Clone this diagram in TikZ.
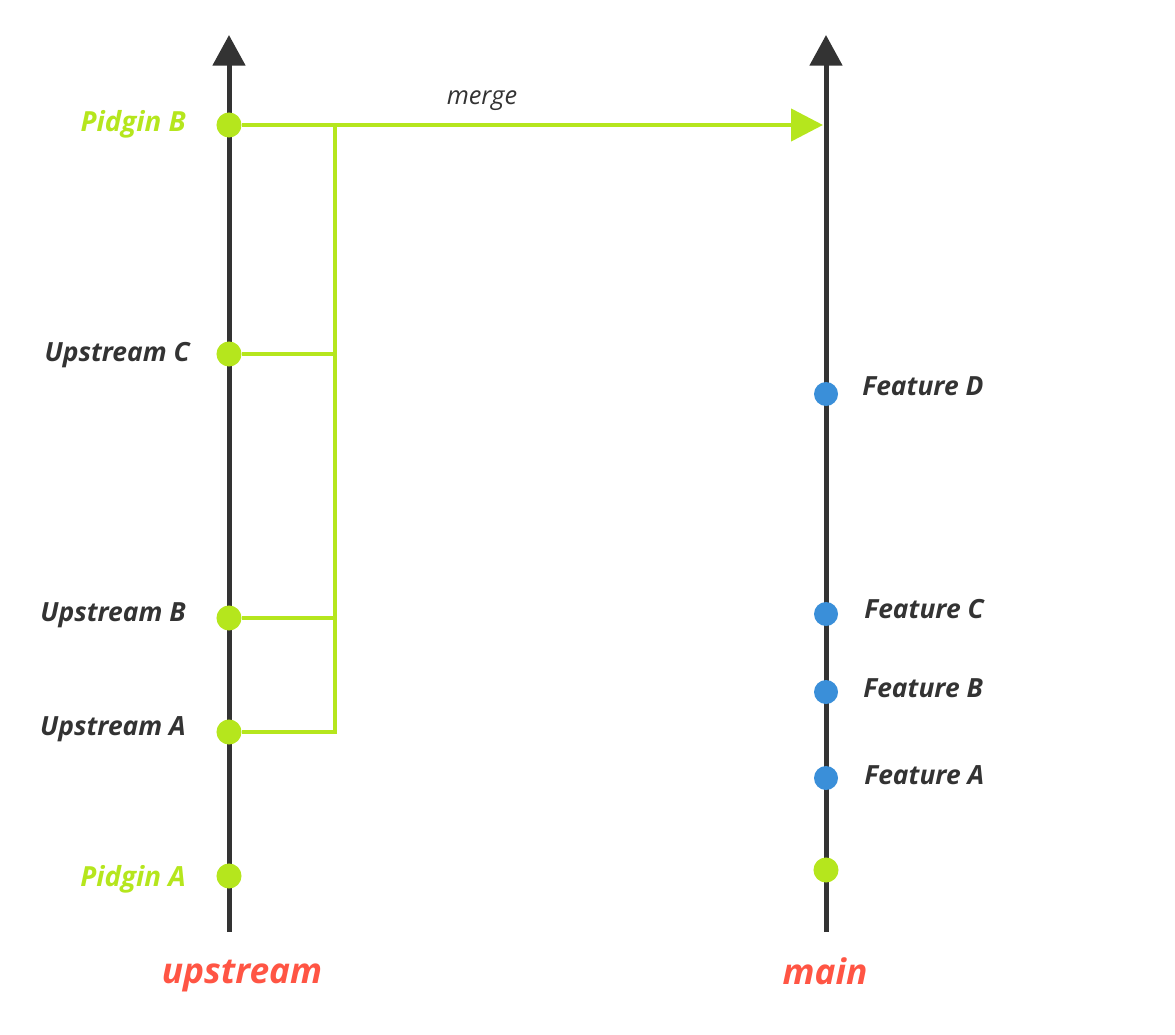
\documentclass[tikz,border=0pt]{standalone}
\usepackage{fontspec}
\setmainfont{Open Sans}
\usetikzlibrary{arrows.meta}
\definecolor{axisc}{HTML}{333333}
\definecolor{lime}{HTML}{B5E61D}
\definecolor{blu}{HTML}{3A8FD9}
\definecolor{redc}{HTML}{FF5544}
\tikzset{
  axis/.style={draw=axisc,line width=3.75pt,-{Triangle[length=23pt,width=24pt]}},
  gline/.style={draw=lime,line width=3.3pt},
  gdot/.style={circle,fill=lime,inner sep=0pt,minimum size=18.8pt},
  bdot/.style={circle,fill=blu,inner sep=0pt,minimum size=18pt},
  lbl/.style={font=\bfseries\itshape\fontsize{19.8}{22}\selectfont,text=axisc,inner sep=0pt},
  glbl/.style={lbl,text=lime,font=\bfseries\itshape\fontsize{20.8}{22}\selectfont},
  blbl/.style={font=\bfseries\itshape\fontsize{26.5}{30}\selectfont,text=redc,inner sep=0pt},
}
\begin{document}
\begin{tikzpicture}[x=0.75pt,y=-0.75pt]
\useasboundingbox (0,0) rectangle (1175,1035);
% axes
\coordinate (lb) at (229,932);
\coordinate (lt) at (229,35);
\coordinate (rb) at (826,932);
\coordinate (rt) at (826,35);
\draw[axis] (lb) -- (lt);
\draw[axis] (rb) -- (rt);
% left dots
\node[gdot] (pb) at (229,125) {};
\node[gdot] (uc) at (229,354) {};
\node[gdot] (ub) at (229,618) {};
\node[gdot] (ua) at (229,732) {};
\node[gdot] (pa) at (229,876) {};
% right dots
\node[bdot] (fd) at (826,394) {};
\node[bdot] (fc) at (826,614) {};
\node[bdot] (fb) at (826,692) {};
\node[bdot] (fa) at (826,778) {};
\node[gdot] (mg) at (826,870) {};
% merge lines
\coordinate (jt) at (335,125);
\coordinate (jc) at (335,354);
\coordinate (jb) at (335,618);
\coordinate (ja) at (335,732);
\coordinate (mt) at (823,125);
\draw[gline,-{Triangle[length=24pt,width=24pt]}] (pb.east) -- (mt);
\draw[gline] (uc.east) -- (jc);
\draw[gline] (ub.east) -- (jb);
\draw[gline] (ua.east) -- (ja) -- (jt);
\node[font=\itshape\fontsize{19}{22}\selectfont,text=axisc,inner sep=0pt] (mlab) at (482,101) {merge};
% left labels
\node[glbl,anchor=east] (lpb) at (186,124) {Pidgin B};
\node[lbl,anchor=east] (luc) at (190,355) {Upstream C};
\node[lbl,anchor=east] (lub) at (186,615) {Upstream B};
\node[lbl,anchor=east] (lua) at (186,729) {Upstream A};
\node[glbl,anchor=east] (lpa) at (186,879) {Pidgin A};
% right labels
\node[lbl,anchor=west] (lfd) at (862,386) {Feature D};
\node[lbl,anchor=west] (lfc) at (864,609) {Feature C};
\node[lbl,anchor=west] (lfb) at (863,688) {Feature B};
\node[lbl,anchor=west] (lfa) at (864,775) {Feature A};
% branch labels
\node[blbl] (lup) at (242,976) {upstream};
\node[blbl] (lmain) at (825,971) {main};
\end{tikzpicture}
\end{document}
